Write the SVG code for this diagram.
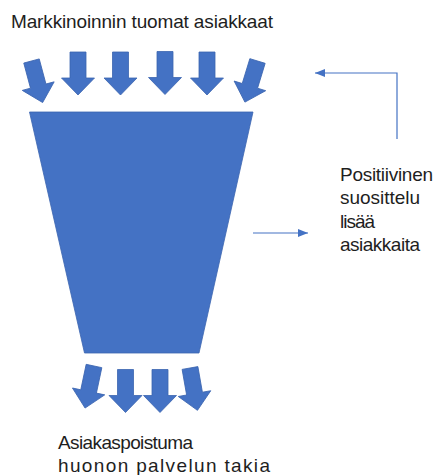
<svg xmlns="http://www.w3.org/2000/svg" width="435" height="475" viewBox="0 0 435 475">
  <style>
    .shape { fill: #4472C4; stroke: #3B65B0; stroke-width: 0.8; stroke-linejoin: miter; }
    .conn { fill: none; stroke: #4472C4; stroke-width: 1.2; }
    .lbl { font-family: "Liberation Sans", Arial, sans-serif; font-size: 19px; fill: #1E1E1E; }
  </style>
  <defs>
    <path id="blockArrow" d="M-8,0 H8 V26 H16.5 L0,43 L-16.5,26 H-8 Z"/>
    <marker id="head" markerUnits="userSpaceOnUse" markerWidth="10" markerHeight="8" refX="10" refY="4" orient="auto">
      <path d="M0,0 L10,4 L0,8 Z" fill="#4472C4"/>
    </marker>
  </defs>
  <rect width="435" height="475" fill="#FFFFFF"/>

  <g id="label-top">
    <text class="lbl" x="11" y="28" textLength="262">Markkinoinnin tuomat asiakkaat</text>
  </g>

  <g id="arrows-in">
    <use href="#blockArrow" class="shape" transform="translate(31.5,61) rotate(-15)"/>
    <use href="#blockArrow" class="shape" transform="translate(78,52)"/>
    <use href="#blockArrow" class="shape" transform="translate(120.5,52)"/>
    <use href="#blockArrow" class="shape" transform="translate(165,51.5)"/>
    <use href="#blockArrow" class="shape" transform="translate(207,52)"/>
    <use href="#blockArrow" class="shape" transform="translate(257.5,61) rotate(17)"/>
  </g>

  <g id="funnel">
    <path class="shape" d="M29.5,112 H253 L199,353 H84.5 Z"/>
  </g>

  <g id="arrows-out">
    <use href="#blockArrow" class="shape" transform="translate(94,366) rotate(12)"/>
    <use href="#blockArrow" class="shape" transform="translate(125.5,369.5)"/>
    <use href="#blockArrow" class="shape" transform="translate(160,369.5)"/>
    <use href="#blockArrow" class="shape" transform="translate(190,368) rotate(-10)"/>
  </g>

  <g id="connectors">
    <polyline class="conn" points="397,139 397,73 315,73" marker-end="url(#head)"/>
    <line class="conn" x1="253" y1="233" x2="308" y2="233" marker-end="url(#head)"/>
  </g>

  <g id="label-right">
    <text class="lbl" x="340" y="181" textLength="93">Positiivinen</text>
    <text class="lbl" x="340" y="204" textLength="80">suosittelu</text>
    <text class="lbl" x="340" y="227.5" textLength="35">lisää</text>
    <text class="lbl" x="340" y="251" textLength="80">asiakkaita</text>
  </g>

  <g id="label-bottom">
    <text class="lbl" x="58" y="448.5" textLength="135">Asiakaspoistuma</text>
    <text class="lbl" x="58" y="471.5" textLength="212">huonon palvelun takia</text>
  </g>
</svg>
